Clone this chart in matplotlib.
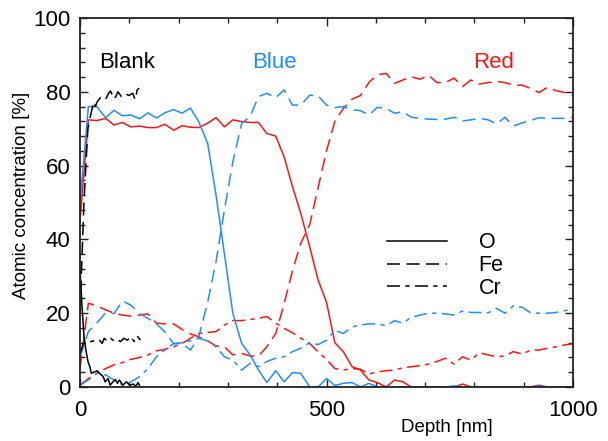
import matplotlib
matplotlib.use("Agg")
import matplotlib.pyplot as plt
from matplotlib.lines import Line2D
from matplotlib.ticker import MultipleLocator

plt.rcParams['font.family'] = ['Liberation Sans', 'DejaVu Sans']

# ---------------- data ----------------
depth = [0, 17, 34, 52, 69, 86, 103, 121, 138, 155, 172, 190, 207, 224, 241, 259, 276, 293,
         310, 328, 345, 362, 379, 397, 414, 431, 448, 466, 483, 500, 517, 534, 552, 569, 586,
         603, 621, 638, 655, 672, 690, 707, 724, 741, 759, 776, 793, 810, 828, 845, 862, 879,
         897, 914, 931, 948, 966, 983, 1000]

blue_O = [50, 76, 76, 73, 75, 73.5, 73.7, 72.7, 74.3, 72.9, 74.3, 75.2, 74.2, 75.6, 71.9, 66, 52, 36,
          20, 11.8, 8.7, 4.6, 1.2, 4.4, 1.4, 3.9, 3.7, 0, 0, 2.3, 0.4, 1, 1.2, 0, 1,
          0, 0, 0, 0, 0, 0, 0, 0, 0, 0.3, 0, 0, 0, 0, 0, 0, 0,
          0, 0, 0.3, 0, 0, 0, 0]
blue_Fe = [8, 15, 17.3, 20.1, 19.9, 23.3, 22.2, 19.9, 18.6, 17.1, 15, 11.7, 11.8, 10, 13.6, 23, 34, 48,
           61, 71.5, 73.3, 78.7, 79.6, 78.4, 80.5, 76.4, 76.4, 79.1, 78.9, 76.4, 75.7, 76, 75.1, 74.9, 73.7,
           75.8, 75.5, 74.2, 74.6, 73.1, 72.8, 72.6, 72.5, 72.6, 73.1, 72.1, 72.4, 72.8, 72.4, 71.3, 73.1, 70.7,
           71.6, 72.2, 73, 72.8, 72.8, 72.8, 73.1]
blue_Cr = [0.5, 1.9, 3.7, 3.3, 1.9, 0.5, 1.4, 2.8, 5, 8.2, 10, 11.8, 12, 12.5, 13.2, 12.5, 10.9, 8.2,
           7.3, 4.6, 6.4, 5.5, 6.9, 7.8, 8.2, 9.6, 10.5, 12, 11.5, 12.7, 15.4, 14.5, 16.3, 16.8, 17.1,
           17.1, 16.6, 18, 17.3, 18.9, 19.5, 20, 20, 19.8, 19.5, 20.6, 20.2, 20.2, 20.1, 21.3, 20, 22,
           21.6, 20.1, 20, 20, 20.2, 20.7, 21]

red_O = [45, 72.4, 72.2, 72.8, 71, 71.7, 70.5, 70.7, 70.3, 70.3, 71.2, 69.6, 70.8, 70.4, 70.3, 71.5, 73, 70.5,
         72.4, 71.9, 71.7, 71.7, 68.7, 68, 62.4, 54.3, 47, 38, 29, 23, 12, 9.6, 5.5, 4.6, 1.9,
         1.2, 0, 1.9, 1.4, 0, 0, 0, 0, 0, 0, 0.8, 0, 0, 0, 0, 0, 0,
         0, 0, 0.5, 0, 0, 0, 0]
red_Fe = [5, 22.7, 22, 20.9, 20, 19.5, 19.2, 19.5, 19.8, 17.3, 17.1, 17.1, 15.6, 14.4, 13.6, 12.5, 11.1, 10.9,
          8.7, 9.1, 8.4, 8.4, 10.9, 14.5, 22.5, 31.5, 39, 44, 54, 64, 72, 75.5, 78, 79, 82.5,
          84.6, 85, 82.3, 83.2, 84.1, 83.4, 84.5, 82.5, 82.5, 83.7, 81.4, 83.2, 82.1, 82.5, 82.8, 82.5, 81.8,
          81.8, 80.9, 79.8, 81.2, 80.3, 79.8, 79]
red_Cr = [0.5, 2.3, 3.7, 5, 6, 6.6, 7.5, 8, 8.7, 9.8, 10.2, 10.9, 11.8, 13.2, 14.5, 14.8, 15, 16.8,
          18, 18, 18.3, 18.6, 19.1, 17.3, 15.9, 14.7, 13.2, 11.8, 9.5, 7.5, 5, 4.6, 5, 4.8, 3.5,
          4.1, 4.4, 4.6, 5.2, 5.5, 5.8, 6.2, 6.9, 7.8, 6.2, 8.2, 7.3, 9.3, 8.7, 8.2, 8.4, 9.6,
          8.9, 10, 10, 10.5, 10.9, 11.4, 11.7]

blank_O_depth = [0, 4, 8, 12, 16, 20, 23, 27, 30, 35, 40, 47, 51, 57, 61, 67, 72, 76, 80, 87,
                 94, 101, 108, 113, 118, 122]
blank_O = [32, 22, 14, 10, 7, 5.5, 3.7, 4, 4.1, 4.4, 3.7, 2.8, 1.4, 2.3, 0.5, 1.4, 2, 1, 1.9, 0.5,
           1.4, 0.5, 0.8, 0.2, 1.2, 0]

blank_Fe_depth = [0, 8, 16, 20, 28, 31, 35, 40, 47, 53, 58, 62, 67, 70, 74, 77, 84, 91, 99, 107,
                  112, 116, 120]
blank_Fe = [20, 50, 70, 72.8, 77.3, 76, 77.3, 78.2, 79, 78.2, 79.6, 80.2, 78.7, 78, 79.1, 80, 78.7,
            79.6, 79, 79.6, 77.8, 80.5, 81]

blank_Cr_depth = [0, 7, 14, 22, 28, 38, 45, 49, 55, 62, 69, 76, 82, 89, 96, 103, 110, 116, 123]
blank_Cr = [9, 12, 12.2, 12.3, 12.5, 12.9, 11.8, 13.2, 12.5, 13.2, 12.5, 12.9, 12.3, 13.2, 12.7,
            13.6, 12.3, 13.8, 12.7]

sample_labels = ["Blank", "Blue", "Red"]
sample_label_x = [95, 395, 839]
sample_label_y = 88
element_labels = ["O", "Fe", "Cr"]

# ---------------- styles ----------------
BLUE = '#1E8FFF'
RED = '#FF1414'
BLACK = '#000000'
LW = 1.1
SOLID = '-'
DASH = (0, (8.5, 4.3))
DASHDOT = (0, (8.5, 3.5, 2.8, 3.5))

fig = plt.figure(figsize=(6.08, 4.41), dpi=100)
ax = fig.add_axes([80/608, 1-387/441, 493/608, 369/441])

series = [
    (depth, red_O, RED, SOLID), (depth, red_Fe, RED, DASH), (depth, red_Cr, RED, DASHDOT),
    (depth, blue_O, BLUE, SOLID), (depth, blue_Fe, BLUE, DASH), (depth, blue_Cr, BLUE, DASHDOT),
    (blank_O_depth, blank_O, BLACK, SOLID), (blank_Fe_depth, blank_Fe, BLACK, DASH),
    (blank_Cr_depth, blank_Cr, BLACK, DASHDOT),
]
for x, y, c, ls in series:
    ax.plot(x, y, color=c, linestyle=ls, linewidth=LW, clip_on=True)

ax.set_xlim(0, 1000)
ax.set_ylim(0, 100)
ax.xaxis.set_major_locator(MultipleLocator(500))
ax.xaxis.set_minor_locator(MultipleLocator(100))
ax.yaxis.set_major_locator(MultipleLocator(20))
ax.yaxis.set_minor_locator(MultipleLocator(4))
ax.tick_params(which='both', direction='in', top=True, right=True, width=1.0, colors='#222222')
ax.tick_params(which='major', length=6, labelsize=16, labelcolor='black')
ax.tick_params(which='minor', length=3.3)
ax.tick_params(axis='x', which='major', pad=9)
ax.tick_params(axis='y', which='major', pad=7)
for s in ax.spines.values():
    s.set_linewidth(1.3)
    s.set_color('#222222')

for lab, xx, col in zip(sample_labels, sample_label_x, [BLACK, BLUE, RED]):
    ax.text(xx, sample_label_y, lab, color=col, fontsize=16, ha='center', va='center')

handles = [Line2D([], [], color='black', linestyle=ls, linewidth=LW) for ls in [SOLID, DASH, DASHDOT]]
leg = ax.legend(handles, element_labels, loc='upper left', bbox_to_anchor=(0.623, 0.419),
                frameon=False, fontsize=15.5, handlelength=2.8, handletextpad=1.45,
                labelspacing=0.08, borderpad=0, borderaxespad=0)

fig.text(447/608, 1-428/441, "Depth [nm]", fontsize=13.5, ha='center', va='center')
fig.text(22/608, 1-195/441, "Atomic concentration [%]", fontsize=13.5, ha='center', va='center',
         rotation=90)

fig.savefig("out.png", dpi=100)
